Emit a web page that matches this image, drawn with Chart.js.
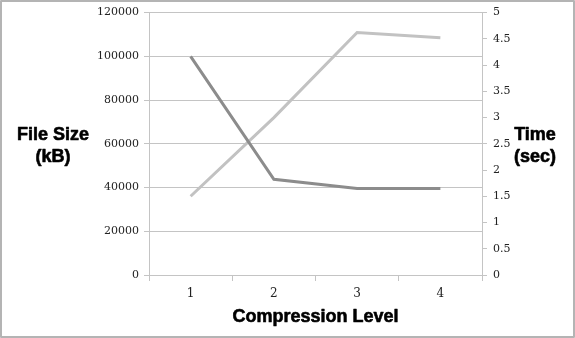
<!DOCTYPE html>
<html>
<head>
<meta charset="utf-8">
<script src="https://cdn.jsdelivr.net/npm/chart.js@4.4.0/dist/chart.umd.min.js"></script>
<style>
  html, body { margin: 0; padding: 0; background: #fff; }
  #chart { display: block; }
</style>
</head>
<body>
<canvas id="chart" width="575" height="338"></canvas>
<script>
// compression level vs. output size and run time
var levels = ["1", "2", "3", "4"];
var fileSize = [100000, 43800, 39600, 39600];   // kB
var timeSec = [1.5, 3.0, 4.62, 4.52];             // seconds

var tickFont = { family: "DejaVu Serif", size: 11 };
var gridColor = "#c4c4c4";

function plainNumber(value) { return String(value); }

// horizontal axis titles + outer frame
var titlesPlugin = {
  id: "titles",
  afterDraw: function(chart) {
    var ctx = chart.ctx;
    var area = chart.chartArea;
    ctx.save();
    ctx.fillStyle = "#000";
    ctx.strokeStyle = "#000";
    ctx.lineWidth = 0.6;
    ctx.lineJoin = "round";
    ctx.font = "bold 18px 'Liberation Sans'";
    ctx.textAlign = "center";
    ctx.textBaseline = "middle";
    var midY = (area.top + area.bottom) / 2;
    var texts = [
      ["File Size", 53, midY - 9],
      ["(kB)", 53, midY + 13],
      ["Time", 535, midY - 9],
      ["(sec)", 535, midY + 13],
      ["Compression Level", (area.left + area.right) / 2, 317]
    ];
    texts.forEach(function(t) {
      ctx.fillText(t[0], t[1], t[2]);
      ctx.strokeText(t[0], t[1], t[2]);
    });
    ctx.strokeStyle = "#b4b4b4";
    ctx.lineWidth = 2;
    ctx.strokeRect(1, 1, chart.width - 2, chart.height - 2);
    ctx.restore();
  }
};

var chart = new Chart(document.getElementById("chart"), {
  type: "line",
  data: {
    labels: levels,
    datasets: [
      {
        label: "File Size (kB)",
        data: fileSize,
        yAxisID: "y",
        borderColor: "#8c8c8c",
        borderWidth: 3,
        pointRadius: 0,
        tension: 0
      },
      {
        label: "Time (sec)",
        data: timeSec,
        yAxisID: "y1",
        borderColor: "#c2c2c2",
        borderWidth: 3,
        pointRadius: 0,
        tension: 0
      }
    ]
  },
  options: {
    responsive: false,
    animation: false,
    layout: { padding: { left: 0, right: 0, top: 12, bottom: 0 } },
    plugins: {
      legend: { display: false },
      tooltip: { enabled: false }
    },
    scales: {
      x: {
        offset: true,
        grid: { offset: true, drawOnChartArea: false, drawTicks: true, tickLength: 6, color: gridColor },
        border: { color: gridColor },
        ticks: { font: { family: "DejaVu Serif", size: 12 }, color: "#222", padding: 6 },
        afterFit: function(scale) { scale.height = 63; }
      },
      y: {
        position: "left",
        min: 0,
        max: 120000,
        ticks: { stepSize: 20000, font: tickFont, color: "#222", padding: 5, callback: plainNumber },
        grid: { color: gridColor, tickLength: 5 },
        border: { color: gridColor },
        afterFit: function(scale) { scale.width = 149; }
      },
      y1: {
        position: "right",
        min: 0,
        max: 5,
        ticks: { stepSize: 0.5, font: tickFont, color: "#222", padding: 6, callback: plainNumber },
        grid: { drawOnChartArea: false, color: gridColor, tickLength: 5 },
        border: { color: gridColor },
        afterFit: function(scale) { scale.width = 93; }
      }
    }
  },
  plugins: [titlesPlugin]
});
</script>
</body>
</html>
